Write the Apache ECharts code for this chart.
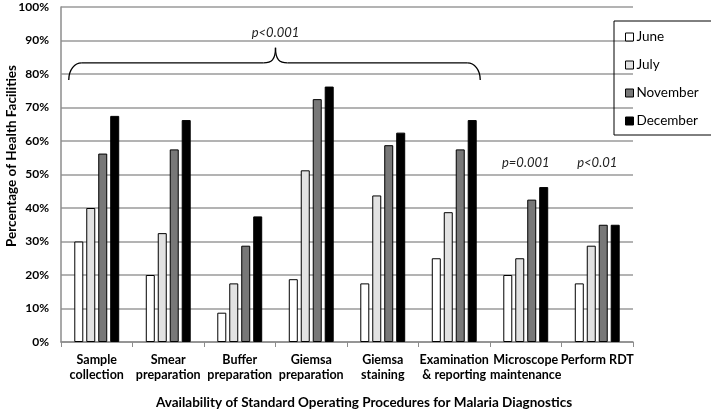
<!DOCTYPE html>
<html><head><meta charset="utf-8">
<script src="https://cdn.jsdelivr.net/npm/echarts@6/dist/echarts.min.js"></script>
<style>html,body{margin:0;padding:0;background:#fff}#c{width:711px;height:413px}</style>
</head><body><div id="c"></div>
<script>
const categories = ['Sample\ncollection','Smear\npreparation','Buffer\npreparation','Giemsa\npreparation','Giemsa\nstaining','Examination\n& reporting','Microscope\nmaintenance','Perform RDT'];
const june = [30, 20, 8.75, 18.75, 17.5, 25, 20, 17.5];
const july = [40, 32.5, 17.5, 51.25, 43.75, 38.75, 25, 28.75];
const november = [56.25, 57.5, 28.75, 72.5, 58.75, 57.5, 42.5, 35];
const december = [67.5, 66.25, 37.5, 76.25, 62.5, 66.25, 46.25, 35];
const seriesNames = ['June','July','November','December'];
const seriesColors = ['#ffffff','#e2e2e2','#787878','#000000'];
const yTicks = [0,10,20,30,40,50,60,70,80,90,100];
const xTitle = 'Availability of Standard Operating Procedures for Malaria Diagnostics';
const yTitle = 'Percentage of Health Facilities';
const annotations = [
  {text:'p<0.001', cat:2.5, y:92.2},
  {text:'p=0.001', cat:6, y:53.5},
  {text:'p<0.01', cat:7, y:53.5}
];

const font = 'Lato, "Open Sans", sans-serif';
const chart = echarts.init(document.getElementById('c'), null, {renderer:'canvas'});
const data = [june, july, november, december];
const option = {
  animation:false,
  textStyle:{fontFamily:font},
  grid:{left:61, right:78, top:7, bottom:71},
  legend:{
    orient:'vertical', left:614, top:21,
    data:seriesNames, itemWidth:8, itemHeight:8, itemGap:14,
    icon:'rect', padding:[9,13,7,11],
    borderColor:'#000', borderWidth:1,
    itemStyle:{borderColor:'#000', borderWidth:1},
    textStyle:{fontFamily:font, fontSize:13.5, color:'#000', padding:[0,0,0,-2]}
  },
  xAxis:{
    type:'category', data:categories,
    axisLine:{lineStyle:{color:'#8c8c8c', width:1.5}},
    axisTick:{show:true, length:5, lineStyle:{color:'#8c8c8c'}},
    axisLabel:{fontFamily:font, fontWeight:'bold', fontSize:12.5, color:'#000', lineHeight:15, margin:10, interval:0}
  },
  yAxis:{
    type:'value', min:0, max:100, interval:10,
    axisLine:{show:true, lineStyle:{color:'#8c8c8c', width:1.5}},
    axisTick:{show:false},
    splitLine:{lineStyle:{color:'#9a9a9a', width:1.5}},
    axisLabel:{fontFamily:font, fontWeight:'bold', fontSize:12, color:'#000', margin:12,
      formatter:v => yTicks.includes(v) ? v + '%' : ''}
  },
  series: seriesNames.map((n,i)=>({
    name:n, type:'bar', data:data[i], barWidth:9, barGap:'33%',
    itemStyle:{color:seriesColors[i], borderColor:'#000', borderWidth:1}
  }))
};
chart.setOption(option);

function px(cat, v){ return chart.convertToPixel({gridIndex:0}, [cat, v]); }
function catX(c){
  const a = Math.floor(c), b = Math.ceil(c);
  const xa = px(a,0)[0], xb = px(b,0)[0];
  return xa + (xb - xa) * (c - a);
}
const gfx = [];
annotations.forEach(a=>{
  gfx.push({type:'text', style:{text:a.text, x:catX(a.cat), y:px(0,a.y)[1], align:'center', verticalAlign:'middle',
    font:'italic 13px ' + font, fill:'#222'}});
});
gfx.push({type:'text', style:{text:xTitle, x:364, y:403, align:'center', verticalAlign:'middle',
  font:'bold 13.5px ' + font, fill:'#000'}});
gfx.push({type:'text', x:12, y:156, rotation:Math.PI/2, style:{text:yTitle, x:0, y:0, align:'center', verticalAlign:'middle',
  font:'bold 13.5px ' + font, fill:'#000'}});
const L = px(0,0)[0] - 28, R = px(5,0)[0] + 26, M = catX(2.5);
const yb = px(0,78.2)[1], yh = px(0,83.3)[1], yt = px(0,87.8)[1];
const hx = 13;
const ls = {fill:null, stroke:'#000', lineWidth:1.3};
const bz = (x1,y1,cx1,cy1,cx2,cy2,x2,y2) => ({type:'bezierCurve', shape:{x1,y1,x2,y2,cpx1:cx1,cpy1:cy1,cpx2:cx2,cpy2:cy2}, style:ls});
gfx.push(bz(L,yb, L,yh+(yb-yh)*0.4, L+hx*0.45,yh, L+hx,yh));
gfx.push({type:'line', shape:{x1:L+hx,y1:yh,x2:M-12,y2:yh}, style:ls});
gfx.push(bz(M-12,yh, M-4,yh, M,yh-3, M,yt));
gfx.push(bz(M,yt, M,yh-3, M+4,yh, M+12,yh));
gfx.push({type:'line', shape:{x1:M+12,y1:yh,x2:R-hx,y2:yh}, style:ls});
gfx.push(bz(R-hx,yh, R-hx*0.45,yh, R,yh+(yb-yh)*0.4, R,yb));
chart.setOption({graphic:gfx});
</script></body></html>
